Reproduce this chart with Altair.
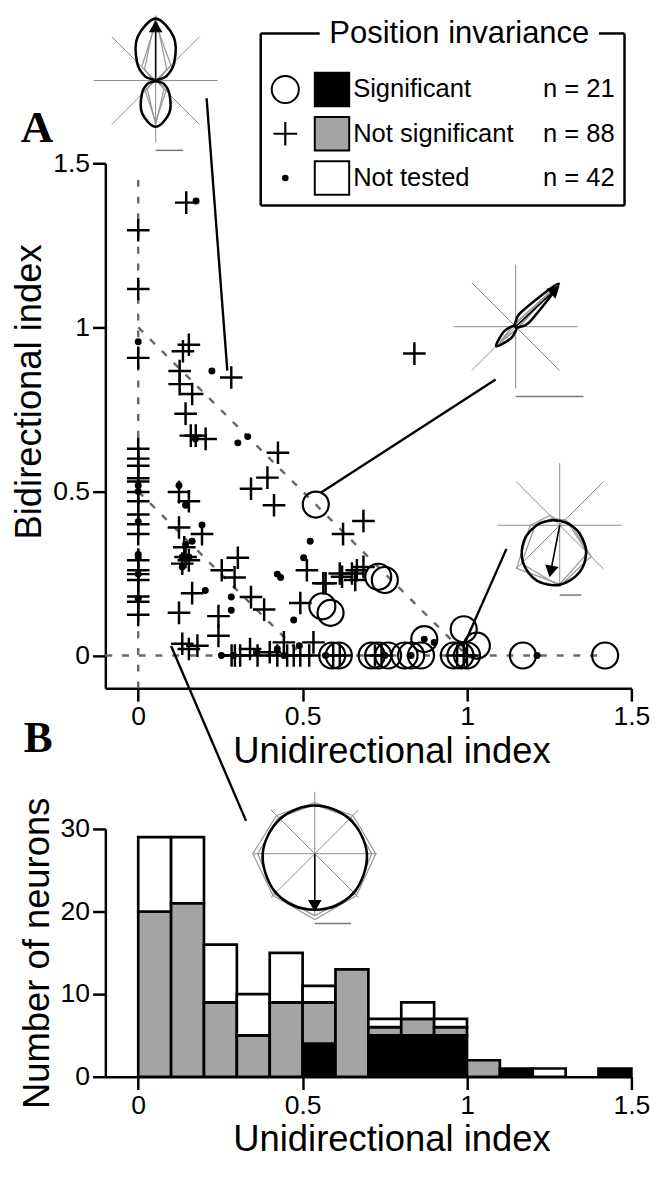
import altair as alt
import pandas as pd
import numpy as np

# ---------------- Panel A data: unidirectional (x) vs bidirectional (y) index ----------------
sig_x = [0.54, 0.56, 0.585, 0.59, 0.61, 0.73, 0.75, 0.71, 0.73, 0.76, 0.81, 0.83, 0.86,
         0.87, 0.96, 0.98, 0.99, 1.00, 1.03, 1.17, 1.42]
sig_y = [0.46, 0.15, 0.13, 0.0, 0.0, 0.24, 0.23, 0.0, 0.0, 0.0, 0.0, 0.0, 0.0,
         0.05, 0.0, 0.0, 0.08, 0.0, 0.03, 0.0, 0.0]

ns_x = [0.0] * 20 + [
    0.146, 0.154, 0.136, 0.126, 0.283, 0.126, 0.164, 0.144, 0.16, 0.175, 0.205, 0.425,
    0.393, 0.343, 0.413, 0.124, 0.154, 0.124, 0.194, 0.144, 0.134, 0.154, 0.254, 0.303,
    0.293, 0.164, 0.124, 0.244, 0.244, 0.343, 0.383, 0.513, 0.563, 0.493, 0.613, 0.66,
    0.685, 0.623, 0.685, 0.443, 0.533, 0.134, 0.154, 0.284, 0.294, 0.363, 0.423, 0.453,
    0.473, 0.493, 0.593, 0.613, 0.84, 0.99, 1.0, 0.665, 0.72, 0.18, 0.31, 0.34, 0.40,
    0.57, 0.65, 0.74, 0.97, 0.52, 0.14, 0.62]
ns_y = [1.296, 1.117, 0.907, 0.630, 0.578, 0.540, 0.530, 0.498, 0.470, 0.430, 0.370,
        0.290, 0.248, 0.230, 0.180, 0.164, 0.124, 0.60, 0.40, 0.26] + [
    1.38, 0.947, 0.927, 0.867, 0.847, 0.827, 0.797, 0.737, 0.67, 0.67, 0.66, 0.618,
    0.542, 0.508, 0.458, 0.498, 0.470, 0.390, 0.370, 0.30, 0.28, 0.29, 0.26, 0.298,
    0.238, 0.19, 0.13, 0.12, 0.06, 0.178, 0.14, 0.26, 0.22, 0.16, 0.25, 0.23,
    0.27, 0.37, 0.41, 0.04, 0.04, 0.036, 0.02, 0.0, 0.0, 0.0, 0.0, 0.0,
    0.0, 0.0, 0.0, 0.0, 0.92, 0.0, 0.0, 0.26, 0.0, 0.03, 0.0, 0.02, 0.01,
    0.22, 0.25, 0.0, 0.0, 0.0, 0.33, 0.24]

nt_x = [0.0, 0.0, 0.0, 0.0, 0.0, 0.0, 0.0, 0.0,
        0.176, 0.224, 0.174, 0.303, 0.333, 0.124, 0.144, 0.194, 0.144, 0.164, 0.134,
        0.154, 0.134, 0.204, 0.283, 0.283, 0.423, 0.433, 0.503, 0.523, 0.473, 0.253,
        0.29, 0.423, 0.443, 0.49, 0.87, 0.90, 1.213, 0.36, 0.75, 0.83, 0.57]
nt_y = [0.956, 0.518, 0.500, 0.408, 0.308, 0.298, 0.248, 0.174,
        1.385, 0.867, 0.66, 0.648, 0.667, 0.518, 0.458, 0.398, 0.338, 0.348, 0.30,
        0.30, 0.27, 0.198, 0.178, 0.138, 0.248, 0.238, 0.298, 0.348, 0.108, 0.0,
        0.0, 0.02, 0.0, 0.03, 0.05, 0.04, 0.0, 0.01, 0.0, 0.0, 0.0]

# reference lines drawn in panel A (x1, y1) -> (x2, y2)
guide_x1 = [0.0, -0.1, 0.0, 0.0]
guide_y1 = [-0.1, 0.0, 1.0, 0.5]
guide_x2 = [0.0, 1.42, 1.0, 0.5]
guide_y2 = [1.46, 0.0, 0.0, 0.0]

# ---------------- Panel B data: histogram of unidirectional index ----------------
bin_lo = [0.0, 0.1, 0.2, 0.3, 0.4, 0.5, 0.6, 0.7, 0.8, 0.9, 1.0, 1.1, 1.2, 1.3, 1.4]
hist_sig = [0, 0, 0, 0, 0, 4, 0, 5, 5, 5, 0, 1, 0, 0, 1]
hist_ns = [20, 21, 9, 5, 9, 5, 13, 1, 2, 1, 2, 0, 0, 0, 0]
hist_nt = [9, 8, 7, 5, 6, 2, 0, 1, 2, 1, 0, 0, 1, 0, 0]

categories = ["Significant", "Not significant", "Not tested"]
legend_n = ["n = 21", "n = 88", "n = 42"]
cat_colors = ["black", "#a4a4a4", "white"]

# ---------------- example tuning-curve insets (polar plots) ----------------
# bold curve radius (px) every 22.5 deg, thin gray polygons every 45 deg
inset_bold = [
    [0, 12, 27, 48, 63, 48, 27, 12, 0, 9, 20, 36, 47, 36, 20, 9],
    [5, 17, 62, 17, 5, 2, 0, 2, 4.5, 13, 28, 13, 4.5, 2, 0, 2],
    [11.5, 7, 5, 4.5, 4.5, 5, 7, 12, 23.5, 39, 53, 61, 60.5, 52, 38, 22],
    [53, 51, 50, 49, 49, 49, 50, 51, 53, 54, 56, 57, 57, 57, 56, 54],
]
inset_gray = [
    [[1, 16, 66, 16, 1, 12, 45, 12], [2, 22, 58, 20, 2, 15, 42, 15]],
    [[3, 60, 3, 0, 3, 25, 3, 0], [4, 55, 4, 0, 4, 22, 4, 0]],
    [[10, 5, 4, 14, 30, 62, 60, 40], [12, 8, 6, 10, 25, 55, 62, 45]],
    [[62, 55, 52, 55, 63, 60, 67, 60], [58, 52, 50, 52, 58, 58, 63, 58]],
]
inset_origin = [(0.053, 1.752), (1.148, 1.002), (1.282, 0.397), (0.537, -0.604)]
inset_arrow_dir = [90, 43, 259, 270]
inset_arrow_len = [62, 62, 55, 60]
inset_scalebar = [28, 69, 22, 37]
callout_from = [(0.208, 1.698), (1.087, 0.841), (1.120, 0.325), (0.100, 0.029)]
callout_to = [(0.271, 0.868), (0.555, 0.496), (0.992, 0.035), (0.328, -0.504)]

# ---------------- layout ----------------
FONT = "Liberation Sans"
W = 535
HA = 534
HB = 252
PXX = W / 1.6
PXY = HA / 1.6
SPOKE = 63

xs = alt.Scale(domain=[-0.1, 1.5], nice=False, zero=False)
ys = alt.Scale(domain=[-0.1, 1.5], nice=False, zero=False)
xaxA = alt.Axis(values=[0, 0.5, 1, 1.5], format="~g", title="Unidirectional index",
                labelFlush=False, grid=False, titleX=291)
yaxA = alt.Axis(values=[0, 0.5, 1, 1.5], format="~g", title="Bidirectional index",
                labelFlush=False, grid=False, titleY=232)


def AX(f):
    return alt.X(f, type="quantitative", scale=xs, axis=xaxA)


def AY(f):
    return alt.Y(f, type="quantitative", scale=ys, axis=yaxA)


def one():
    return alt.Chart(pd.DataFrame({"k": [0]}))


# scatter frames
sig_df = pd.DataFrame({"u": sig_x, "b": sig_y})
ns_df = pd.DataFrame({"u": ns_x, "b": ns_y})
nt_df = pd.DataFrame({"u": nt_x, "b": nt_y})
guide_df = pd.DataFrame({"x1": guide_x1, "y1": guide_y1, "x2": guide_x2, "y2": guide_y2})

guides = alt.Chart(guide_df).mark_rule(color="#6a6a6a", strokeWidth=2.5, strokeDash=[7, 10]).encode(
    x=AX("x1"), y=AY("y1"), x2="x2:Q", y2="y2:Q")
circles = alt.Chart(sig_df).mark_point(shape="circle", filled=False, size=700, strokeWidth=2.2,
                                       color="black", opacity=1).encode(x=AX("u"), y=AY("b"))
crosses = alt.Chart(ns_df).mark_point(shape="M-1,0L1,0M0,-1L0,1", filled=False, size=529,
                                      strokeWidth=2.5, color="black", opacity=1).encode(
    x=AX("u"), y=AY("b"))
dots = alt.Chart(nt_df).mark_circle(size=50, color="black", opacity=1).encode(x=AX("u"), y=AY("b"))

# inset geometry in panel-A data units
spk, gry, bld, shaft, head, sbar = [], [], [], [], [], []
for k, (ox, oy) in enumerate(inset_origin):
    for a in [0, 45, 90, 135]:
        t = np.deg2rad(a)
        spk.append(dict(x1=ox - SPOKE * np.cos(t) / PXX, y1=oy - SPOKE * np.sin(t) / PXY,
                        x2=ox + SPOKE * np.cos(t) / PXX, y2=oy + SPOKE * np.sin(t) / PXY))
    for g, poly in enumerate(inset_gray[k]):
        for i, r in enumerate(poly):
            t = np.deg2rad(45 * i)
            gry.append(dict(cid=f"{k}-{g}", i=i, x=ox + r * np.cos(t) / PXX, y=oy + r * np.sin(t) / PXY))
    for i, r in enumerate(inset_bold[k]):
        t = np.deg2rad(22.5 * i)
        bld.append(dict(cid=str(k), i=i, x=ox + r * np.cos(t) / PXX, y=oy + r * np.sin(t) / PXY))
    t = np.deg2rad(inset_arrow_dir[k])
    L = inset_arrow_len[k]
    shaft.append(dict(x1=ox, y1=oy, x2=ox + (L - 8) * np.cos(t) / PXX, y2=oy + (L - 8) * np.sin(t) / PXY))
    head.append(dict(x=ox + (L - 7) * np.cos(t) / PXX, y=oy + (L - 7) * np.sin(t) / PXY,
                     ang=(90 - inset_arrow_dir[k]) % 360))
    sbar.append(dict(x1=ox, x2=ox + inset_scalebar[k] / PXX, y=oy - 71 / PXY))

spk_df = pd.DataFrame(spk)
gry_df = pd.DataFrame(gry)
bld_df = pd.DataFrame(bld)
shaft_df = pd.DataFrame(shaft)
head_df = pd.DataFrame(head)
sbar_df = pd.DataFrame(sbar)
call_df = pd.DataFrame({"x1": [p[0] for p in callout_from], "y1": [p[1] for p in callout_from],
                        "x2": [p[0] for p in callout_to], "y2": [p[1] for p in callout_to]})

spokes = alt.Chart(spk_df).mark_rule(color="#8a8a8a", strokeWidth=1).encode(
    x=AX("x1"), y=AY("y1"), x2="x2:Q", y2="y2:Q")
grays = alt.Chart(gry_df).mark_line(interpolate="linear-closed", color="#9a9a9a", strokeWidth=1.3).encode(
    x=AX("x"), y=AY("y"), detail="cid:N", order="i:Q")
bolds = alt.Chart(bld_df).mark_line(interpolate="cardinal-closed", color="black", strokeWidth=2.6).encode(
    x=AX("x"), y=AY("y"), detail="cid:N", order="i:Q")
shafts = alt.Chart(shaft_df).mark_rule(color="black", strokeWidth=1.6).encode(
    x=AX("x1"), y=AY("y1"), x2="x2:Q", y2="y2:Q")
heads = alt.Chart(head_df).mark_point(shape="triangle-up", filled=True, size=190, color="black",
                                      opacity=1).encode(
    x=AX("x"), y=AY("y"), angle=alt.Angle("ang:Q", scale=None))
sbars = alt.Chart(sbar_df).mark_rule(color="#777777", strokeWidth=1.5).encode(
    x=AX("x1"), x2="x2:Q", y=AY("y"))
callouts = alt.Chart(call_df).mark_rule(color="black", strokeWidth=2.4).encode(
    x=AX("x1"), y=AY("y1"), x2="x2:Q", y2="y2:Q")

# legend (pixel positions relative to panel A plot area)
LX0, LX1, LY0, LY1 = 158, 528, -132, 43
leg = []
for (a, b, c, d) in [(LX0, LX0, LY0, LY1), (LX1, LX1, LY0, LY1), (LX0, LX1, LY1, LY1),
                     (LX0, 218, LY0, LY0), (502, LX1, LY0, LY0)]:
    leg.append(one().mark_rule(color="black", strokeWidth=2.5).encode(
        x=alt.value(a), x2=alt.value(b), y=alt.value(c), y2=alt.value(d)))
leg.append(one().mark_text(font=FONT, fontSize=31.5, align="center", baseline="middle", color="black").encode(
    x=alt.value(360), y=alt.value(-131), text=alt.value("Position invariance")))
row_y = [-75, -30, 15]
for j, cat in enumerate(categories):
    yy = row_y[j]
    leg.append(one().mark_rect(stroke="black", strokeWidth=2, fill=cat_colors[j]).encode(
        x=alt.value(213), x2=alt.value(248), y=alt.value(yy - 17), y2=alt.value(yy + 17)))
    leg.append(one().mark_text(font=FONT, fontSize=26, align="left", baseline="middle", color="black").encode(
        x=alt.value(252), y=alt.value(yy), text=alt.value(cat)))
    leg.append(one().mark_text(font=FONT, fontSize=26, align="left", baseline="middle", color="black").encode(
        x=alt.value(445), y=alt.value(yy), text=alt.value(legend_n[j])))
leg.append(one().mark_point(shape="circle", filled=False, size=760, strokeWidth=2, color="black",
                            opacity=1).encode(x=alt.value(183), y=alt.value(row_y[0])))
leg.append(one().mark_point(shape="M-1,0L1,0M0,-1L0,1", filled=False, size=580, strokeWidth=2.2,
                            color="black", opacity=1).encode(x=alt.value(183), y=alt.value(row_y[1])))
leg.append(one().mark_circle(size=45, color="black", opacity=1).encode(
    x=alt.value(183), y=alt.value(row_y[2])))
labelA = one().mark_text(font="Liberation Serif", fontWeight="bold", fontSize=46, align="left",
                         baseline="alphabetic", color="black").encode(
    x=alt.value(-86), y=alt.value(-22), text=alt.value("A"))

panelA = alt.layer(guides, spokes, grays, bolds, shafts, heads, sbars, callouts,
                   circles, crosses, dots, labelA, *leg).properties(width=W, height=HA)

# histogram (stacked: significant, not significant, not tested)
rows = []
for i, lo in enumerate(bin_lo):
    for o, (cat, arr) in enumerate(zip(categories, [hist_sig, hist_ns, hist_nt])):
        if arr[i] > 0:
            rows.append(dict(lo=lo, hi=round(lo + 0.1, 2), cat=cat, n=arr[i], o=o))
hist_df = pd.DataFrame(rows)

xaxB = alt.Axis(values=[0, 0.5, 1, 1.5], format="~g", title="Unidirectional index",
                labelFlush=False, grid=False, titleX=291)
yaxB = alt.Axis(values=[0, 10, 20, 30], title="Number of neurons", labelFlush=False, grid=False)
bars = alt.Chart(hist_df).transform_stack(
    stack="n", groupby=["lo"], as_=["y0", "y1"], sort=[alt.SortField("o", order="ascending")]
).mark_bar(stroke="black", strokeWidth=2.7).encode(
    x=alt.X("lo:Q", scale=alt.Scale(domain=[-0.1, 1.5], nice=False, zero=False), axis=xaxB),
    x2="hi:Q",
    y=alt.Y("y0:Q", scale=alt.Scale(domain=[0, 30], nice=False), axis=yaxB),
    y2="y1:Q",
    color=alt.Color("cat:N", scale=alt.Scale(domain=categories, range=cat_colors), legend=None),
)
labelB = one().mark_text(font="Liberation Serif", fontWeight="bold", fontSize=44, align="left",
                         baseline="alphabetic", color="black").encode(
    x=alt.value(-83), y=alt.value(-78), text=alt.value("B"))
panelB = alt.layer(bars, labelB).properties(width=W, height=HB)

chart = alt.vconcat(panelA, panelB, spacing=143, bounds="flush").properties(
    padding={"left": 3, "top": -5, "right": 5, "bottom": 5}, background="white"
).configure_view(stroke=None).configure_axis(
    domainColor="black", domainWidth=2.5, tickColor="black", tickWidth=2.5, tickSize=13,
    labelFont=FONT, labelFontSize=27, labelColor="black", labelPadding=3,
    titleFont=FONT, titleFontSize=37, titleFontWeight="normal", titleColor="black", titlePadding=4,
)

chart.save("out.html", embed_options={"renderer": "svg", "actions": False})
